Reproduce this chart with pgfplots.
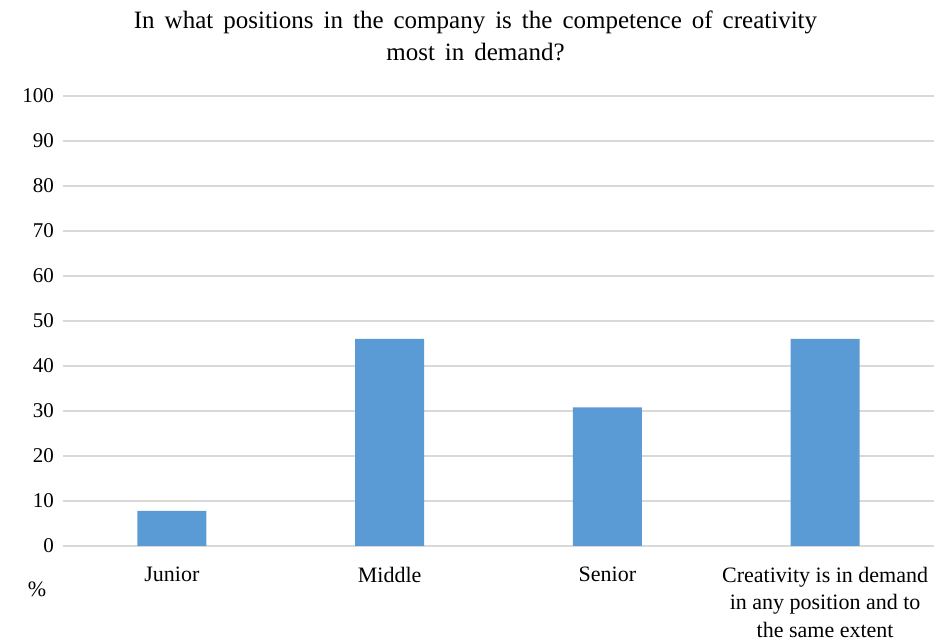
\documentclass[border=0pt]{standalone}
\usepackage{pgfplots}
\pgfplotsset{compat=1.18}
\usepackage{fontspec}
\setmainfont{Liberation Serif}
\newfontfamily\titlefont{Liberation Serif}[WordSpace=1.6]
\definecolor{barblue}{HTML}{5B9BD5}
\definecolor{gridgray}{HTML}{D9D9D9}
\begin{document}
\begin{tikzpicture}
\path[use as bounding box] (-31.5pt,-47.5pt) rectangle (436.5pt,273pt);
\begin{axis}[
  at={(0,0)}, anchor=south west,
  scale only axis,
  width=435.5pt, height=225pt,
  ymin=0, ymax=100, ytick={0,10,...,100},
  xmin=-0.5, xmax=3.5,
  xtick={0,1,2,3},
  xticklabels={Junior,Middle,Senior,{Creativity is in demand\\in any position and to\\the same extent}},
  xticklabel style={align=center, font=\fontsize{11}{13.8}\selectfont, yshift=-7pt},
  yticklabel style={font=\fontsize{10.5}{12}\selectfont, xshift=-1pt},
  /pgf/number format/assume math mode=true,
  ymajorgrids, grid style={gridgray, line width=0.6pt},
  axis line style={draw=none},
  major tick length=0pt,
  ybar, bar width=34.5pt,
  enlargelimits=false,
  clip=false,
]
\addplot[fill=barblue, draw=none] coordinates {(0,7.8) (1,46) (2,30.8) (3,46)};
\node[font=\fontsize{11}{12}\selectfont, anchor=base] at ([xshift=-13pt,yshift=-25.5pt]rel axis cs:0,0) {\%};
\node[font=\titlefont\fontsize{12.5}{16}\selectfont, align=center, anchor=base] at ([xshift=-11.5pt,yshift=17.5pt]rel axis cs:0.5,1) {In what positions in the company is the competence of creativity\\most in demand?};
\end{axis}
\end{tikzpicture}
\end{document}
